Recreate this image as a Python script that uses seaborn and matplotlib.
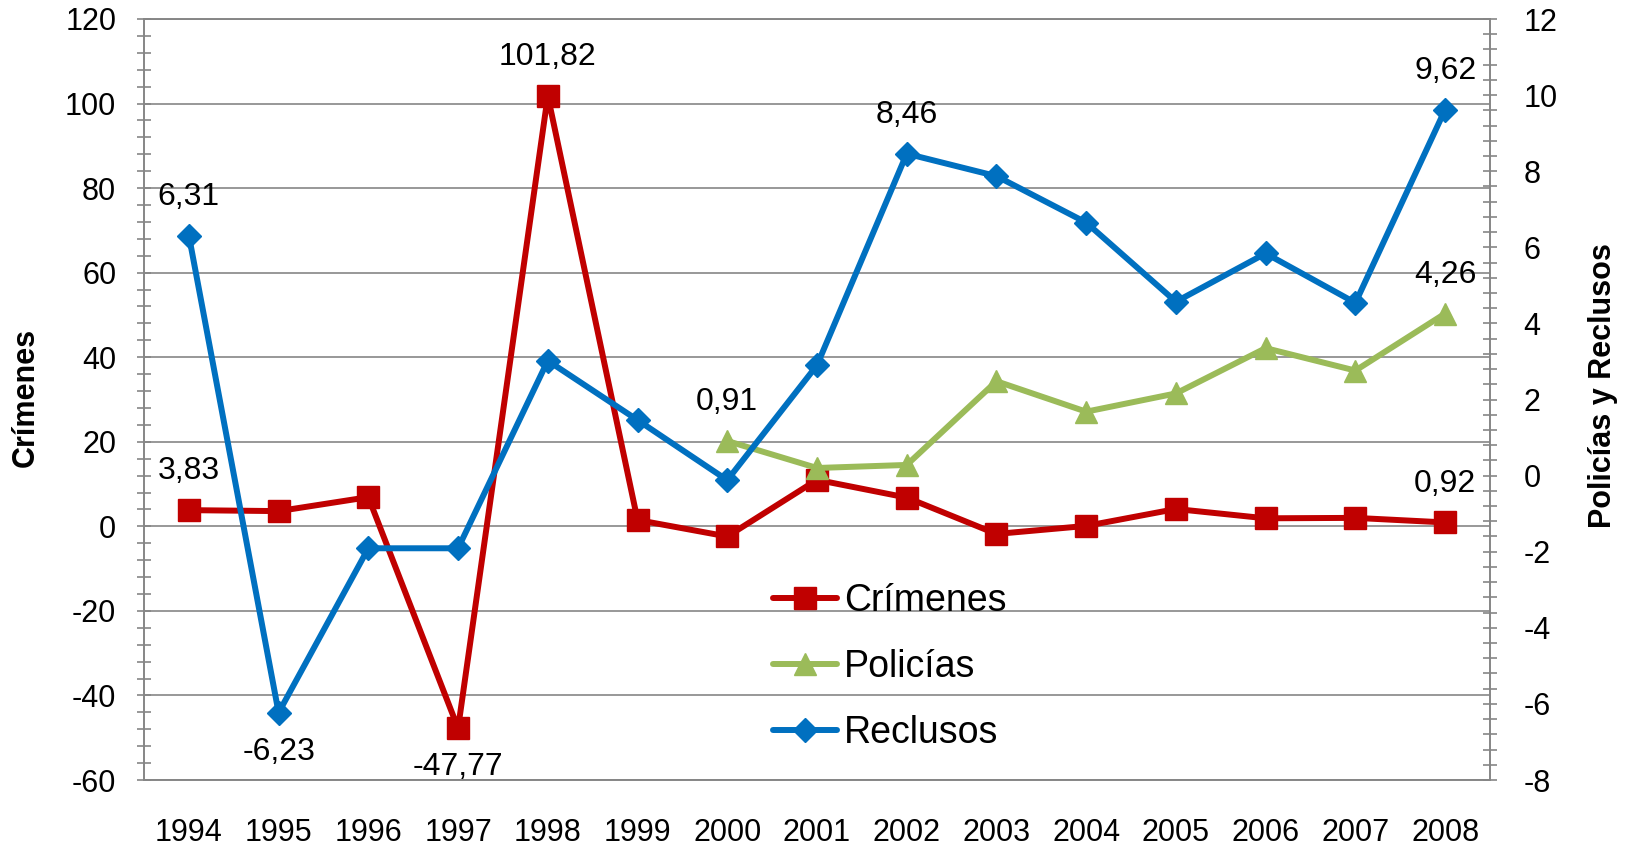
import numpy as np
import pandas as pd
import matplotlib
matplotlib.use('Agg')
import matplotlib.pyplot as plt
import seaborn as sns
from matplotlib.ticker import MultipleLocator

# -----------------------------------------------
# Data
# -----------------------------------------------
years = ['1994', '1995', '1996', '1997', '1998', '1999', '2000', '2001',
         '2002', '2003', '2004', '2005', '2006', '2007', '2008']
crimenes = [3.83, 3.6, 6.9, -47.77, 101.82, 1.5, -2.4, 11.0, 6.8, -1.8,
            0.1, 4.1, 1.9, 2.0, 0.92]
reclusos = [6.31, -6.23, -1.91, -1.91, 3.02, 1.46, -0.12, 2.9, 8.46, 7.87,
            6.65, 4.57, 5.84, 4.54, 9.62]
policias_years = ['2000', '2001', '2002', '2003', '2004', '2005', '2006', '2007', '2008']
policias = [0.91, 0.2, 0.28, 2.48, 1.68, 2.16, 3.35, 2.76, 4.26]

# which points get a data label, and whether above (+1) or below (-1)
crimenes_labels = {'1994': 1, '1997': -1, '1998': 1, '2008': 1}
reclusos_labels = {'1994': 1, '1995': -1, '2002': 1, '2008': 1}
policias_labels = {'2000': 1, '2008': 1}

RED = '#C00000'
GREEN = '#9BBB59'
BLUE = '#0070C0'
GRID = '#868686'

sns.set_style('white')
plt.rcParams['font.family'] = ['Liberation Sans', 'DejaVu Sans']
plt.rcParams['axes.unicode_minus'] = False
plt.rcParams['text.color'] = 'black'

df_c = pd.DataFrame({'x': [years.index(y) for y in years], 'v': crimenes})
df_r = pd.DataFrame({'x': [years.index(y) for y in years], 'v': reclusos})
df_p = pd.DataFrame({'x': [years.index(y) for y in policias_years], 'v': policias})

fig = plt.figure(figsize=(16.33, 8.46), dpi=100)
ax = fig.add_axes([144 / 1633, 1 - 780 / 846, 1346 / 1633, 761 / 846])
ax2 = ax.twinx()

sns.lineplot(data=df_c, x='x', y='v', ax=ax, color=RED, lw=4.3, marker='s',
             markersize=16, markeredgecolor=RED, markeredgewidth=1, label='Crímenes')
sns.lineplot(data=df_p, x='x', y='v', ax=ax2, color=GREEN, lw=4.3, marker='^',
             markersize=16, markeredgecolor=GREEN, markeredgewidth=1, label='Policías')
sns.lineplot(data=df_r, x='x', y='v', ax=ax2, color=BLUE, lw=4.3, marker='D',
             markersize=12, markeredgecolor=BLUE, markeredgewidth=1, label='Reclusos')

for a in (ax, ax2):
    if a.get_legend() is not None:
        a.get_legend().remove()

# data labels
def add_labels(a, xs, vals, which):
    for yr, side in which.items():
        i = xs.index(yr)
        txt = f'{vals[i]:.2f}'.replace('.', ',')
        a.annotate(txt, (years.index(yr), vals[i]), xytext=(0, 28 * side),
                   textcoords='offset points', ha='center', va='center',
                   fontsize=23, color='black')

add_labels(ax, years, crimenes, crimenes_labels)
add_labels(ax2, years, reclusos, reclusos_labels)
add_labels(ax2, policias_years, policias, policias_labels)

# axes
ax.set_xlim(-0.5, len(years) - 0.5)
ax.set_ylim(-60, 120)
ax2.set_ylim(-8, 12)
ax.set_xticks(range(len(years)))
ax.set_xticklabels(years)
ax.yaxis.set_major_locator(MultipleLocator(20))
ax.yaxis.set_minor_locator(MultipleLocator(4))
ax2.yaxis.set_major_locator(MultipleLocator(2))
ax2.yaxis.set_minor_locator(MultipleLocator(0.4))

ax.grid(axis='y', which='major', color=GRID, lw=1.2)
ax.grid(axis='x', visible=False)
ax2.grid(False)

ax.tick_params(axis='x', length=0, pad=27, labelsize=22, labelcolor='black')
ax.tick_params(axis='y', which='both', direction='inout', length=10, width=1.2,
               color=GRID, labelsize=22, pad=15, labelcolor='black')
ax2.tick_params(axis='y', which='both', direction='inout', length=10, width=1.2,
                color=GRID, labelsize=22, pad=19, labelcolor='black')

for a in (ax, ax2):
    for s in a.spines.values():
        s.set_color(GRID)
        s.set_linewidth(1.2)
    a.set_xlabel('')
    a.set_ylabel('')

fig.text(26 / 1633, 1 - 397 / 846, 'Crímenes', rotation=90, ha='center',
         va='center', fontsize=22, fontweight='bold', color='black')
fig.text(1603 / 1633, 1 - 386 / 846, 'Policías y Reclusos', rotation=90,
         ha='center', va='center', fontsize=22, fontweight='bold', color='black')

# legend
h1, l1 = ax.get_legend_handles_labels()
h2, l2 = ax2.get_legend_handles_labels()
leg = ax2.legend(h1 + h2, l1 + l2, loc='upper left',
                 bbox_to_anchor=(773 / 1633, 1 - 583 / 846),
                 bbox_transform=fig.transFigure, frameon=False, fontsize=27,
                 handlelength=1.7, handletextpad=0.2, labelspacing=0.8,
                 borderpad=0, borderaxespad=0, numpoints=1)
for t in leg.get_texts():
    t.set_color('black')

plt.savefig('out.png', dpi=100)
